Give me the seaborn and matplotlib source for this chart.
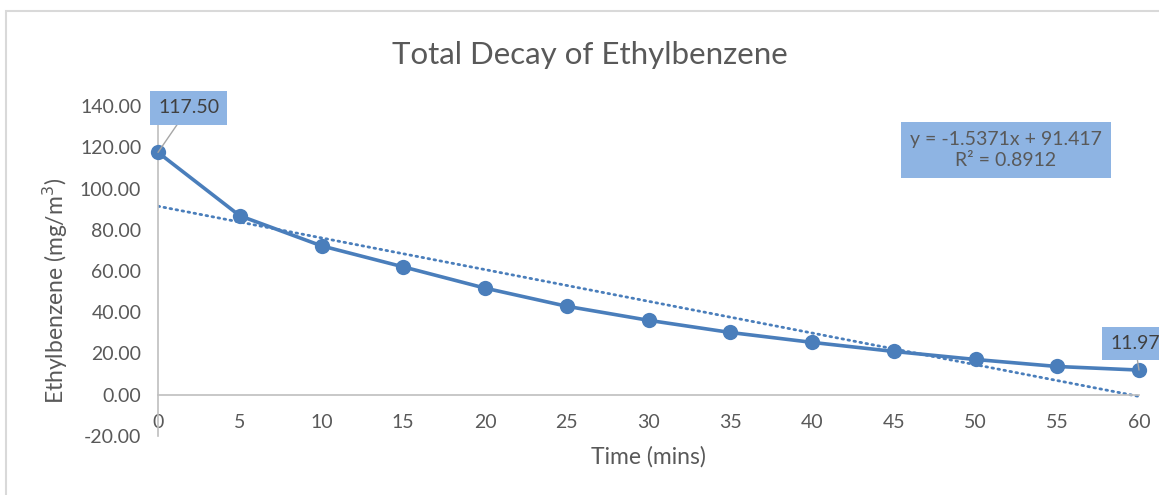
import numpy as np
import pandas as pd
import matplotlib
matplotlib.use("Agg")
import matplotlib.pyplot as plt
import seaborn as sns

# data
time_mins = [0, 5, 10, 15, 20, 25, 30, 35, 40, 45, 50, 55, 60]
ethylbenzene = [117.50, 86.8, 72.2, 62.0, 51.7, 42.9, 36.1, 30.2, 25.4, 21.0, 17.1, 13.7, 11.97]
trend_slope = -1.5371
trend_intercept = 91.417
trend_r2 = 0.8912
y_ticks = [-20, 0, 20, 40, 60, 80, 100, 120, 140]
x_ticks = list(range(0, 61, 5))

sns.set_theme(style="white")
plt.rcParams["font.family"] = ["Lato", "DejaVu Sans"]

LINE = "#4A7EBB"
TEXT = "#595959"
BOX = "#8EB4E3"
AXIS = "#BFBFBF"

df = pd.DataFrame({"time": time_mins, "conc": ethylbenzene})
df["trend"] = trend_intercept + trend_slope * df["time"]

fig = plt.figure(figsize=(11.59, 4.95), dpi=100)
ax = fig.add_axes([158 / 1159, 1 - 436 / 495, (1139 - 158) / 1159, (436 - 106) / 495])

sns.lineplot(data=df, x="time", y="trend", ax=ax, color=LINE, lw=2, linestyle=(0, (0.6, 1.6)),
             dash_capstyle="round")
sns.lineplot(data=df, x="time", y="conc", ax=ax, color=LINE, lw=2.6, marker="o",
             markersize=11, markeredgewidth=0, clip_on=False, zorder=5)

ax.set_xlim(0, 60)
ax.set_ylim(-20, 140)
ax.set_yticks(y_ticks)
ax.set_yticklabels([f"{v:.2f}" for v in y_ticks])
ax.set_xticks(x_ticks)
ax.set_xticklabels([str(v) for v in x_ticks])
ax.tick_params(axis="y", length=0, pad=12, labelsize=14, labelcolor=TEXT)
ax.tick_params(axis="x", length=0, pad=14, labelsize=14, labelcolor=TEXT)

for s in ["top", "right"]:
    ax.spines[s].set_visible(False)
ax.spines["bottom"].set_position(("data", 0))
ax.spines["bottom"].set_color(AXIS)
ax.spines["left"].set_color(AXIS)
ax.spines["bottom"].set_linewidth(1.2)
ax.spines["left"].set_linewidth(1.2)

ax.set_xlabel("Time (mins)", fontsize=16.5, color=TEXT, va="center")
ax.xaxis.set_label_coords(0.5, -0.064)
ax.set_ylabel("Ethylbenzene (mg/m$^3$)", fontsize=16.5, color=TEXT, va="center")
ax.yaxis.set_label_coords(-0.105, 0.44)

fig.suptitle("Total Decay of Ethylbenzene", x=590 / 1159, y=1 - 55 / 495, va="center",
             fontsize=22.5, color=TEXT)

# data labels on first and last point
bbox = dict(boxstyle="square,pad=0.42", fc=BOX, ec="none")
lead = dict(arrowstyle="-", color="#A6A6A6", lw=1, shrinkA=0, shrinkB=0)
ax.annotate(f"{ethylbenzene[0]:.2f}", xy=(time_mins[0], ethylbenzene[0]), xytext=(22, 32),
            textcoords="offset points", ha="center", va="center", fontsize=14, color="#404040",
            bbox=bbox, arrowprops=lead, annotation_clip=False, zorder=6)
ax.annotate(f"{ethylbenzene[-1]:.2f}", xy=(time_mins[-1], ethylbenzene[-1]), xytext=(-3, 19),
            textcoords="offset points", ha="center", va="center", fontsize=14, color="#404040",
            bbox=bbox, arrowprops=lead, annotation_clip=False, zorder=6)

# trendline equation
fig.text(1006 / 1159, 1 - 150 / 495,
         f"y = {trend_slope}x + {trend_intercept}\nR\u00b2 = {trend_r2}",
         ha="center", va="center", fontsize=14, color=TEXT, linespacing=1.35,
         bbox=dict(boxstyle="square,pad=0.45", fc=BOX, ec="none"))

# chart frame
fig.patches.append(plt.Rectangle((6 / 1159, -0.1), 1.2, 1 - 11 / 495 + 0.1, transform=fig.transFigure,
                                 fill=False, ec="#D9D9D9", lw=1.5))

fig.savefig("out.png", dpi=100)
